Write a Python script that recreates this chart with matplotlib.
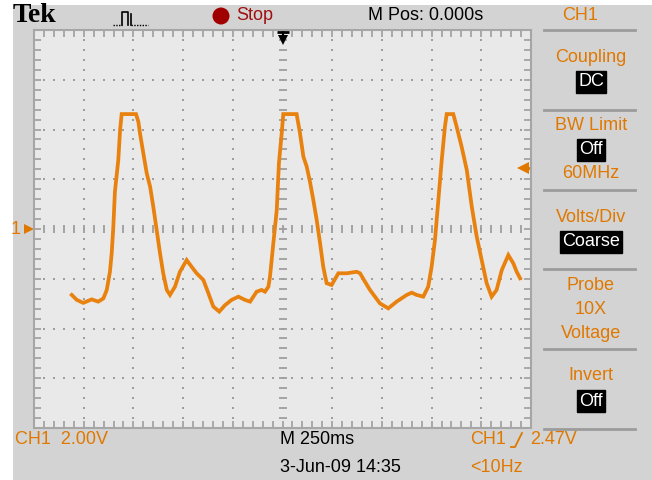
import matplotlib.pyplot as plt
from matplotlib.patches import Circle, Rectangle

########################  SCOPE SETTINGS AND TRACE  ###########################

volts_per_div = 2.00
ms_per_div = 250
trigger_level = 2.47

time_ms = [-1060, -1035, -1002, -960, -927, -901, -884, -868, -859, -851,
           -843, -826, -817, -809, -737, -725, -717, -700, -683, -666,
           -650, -633, -616, -600, -582, -566, -541, -516, -482, -457,
           -432, -398, -373, -348, -318, -289, -256, -222, -189, -163,
           -130, -105, -88, -71, -63, -46, -29, -18, -4, 4,
           71, 88, 105, 122, 138, 155, 172, 189, 205, 222,
           247, 281, 323, 373, 390, 415, 440, 465, 490, 532,
           574, 625, 650, 675, 708, 733, 750, 767, 784, 801,
           817, 826, 859, 876, 901, 927, 952, 977, 1002, 1027,
           1052, 1077, 1103, 1136, 1161, 1178, 1195]
volts = [-2.65, -2.85, -2.97, -2.83, -2.92, -2.79, -2.45, -1.72, -0.96, 0.09,
         1.50, 2.77, 3.98, 4.62, 4.62, 4.31, 3.85, 3.04, 2.24, 1.70,
         0.90, -0.04, -0.98, -1.78, -2.45, -2.65, -2.32, -1.72, -1.25, -1.52,
         -1.78, -2.05, -2.58, -3.12, -3.32, -3.06, -2.85, -2.72, -2.85, -2.92,
         -2.52, -2.45, -2.52, -2.32, -1.92, -0.57, 0.76, 2.64, 3.85, 4.62,
         4.62, 3.85, 2.91, 2.50, 1.90, 1.17, 0.36, -0.57, -1.52, -2.18,
         -2.25, -1.78, -1.78, -1.72, -1.78, -2.12, -2.45, -2.72, -2.99, -3.19,
         -2.92, -2.65, -2.56, -2.65, -2.72, -2.32, -1.52, -0.44, 1.17, 2.77,
         4.11, 4.62, 4.62, 4.11, 3.31, 2.37, 0.90, -0.31, -1.25, -2.18,
         -2.72, -2.45, -1.65, -1.05, -1.38, -1.72, -1.98]

# side menu: (text, boxed?)
menu_lines = [[('Coupling', False), ('DC', True)],
              [('BW Limit', False), ('Off', True), ('60MHz', False)],
              [('Volts/Div', False), ('Coarse', True)],
              [('Probe', False), ('10X', False), ('Voltage', False)],
              [('Invert', False), ('Off', True)]]

ORANGE = '#e07800'
TRACE = '#e8810d'
plt.rcParams['font.family'] = ['Liberation Sans', 'DejaVu Sans']
FS = 13

fig = plt.figure(figsize=(6.52, 4.8), dpi=100)
fig.patch.set_facecolor('white')

###########################  CHROME (PIXEL COORDS)  ###########################

ui = fig.add_axes([0, 0, 1, 1], zorder=0)
ui.set_xlim(0, 652)
ui.set_ylim(480, 0)
ui.axis('off')
ui.add_patch(Rectangle((13, 5), 640, 476, color='#d3d3d3', lw=0))

ui.text(13, 16, 'Tek', family='Liberation Serif', weight='bold', fontsize=20,
        va='center', ha='left', color='black')

# trigger type icon
ui.plot([113, 122], [25, 25], color='black', lw=1, ls=(0, (1, 1)))
ui.plot([122, 122, 128, 128], [25, 12, 12, 25], color='black', lw=1.2)
ui.plot([131, 131], [14, 25], color='black', lw=1.2)
ui.plot([131, 148], [25, 25], color='black', lw=1, ls=(0, (1, 1)))

ui.add_patch(Circle((221, 16), 8.5, color='#a00000', lw=0))
ui.text(236, 16, 'Stop', color='#a01010', fontsize=FS, va='center', ha='left')
ui.text(426, 16, 'M Pos: 0.000s', color='black', fontsize=FS, va='center', ha='center')
ui.text(580, 16, 'CH1', color=ORANGE, fontsize=FS, va='center', ha='center')

sep_y = [30, 110, 190, 269, 349, 429]
for y in sep_y:
    ui.plot([544, 635], [y, y], color='#9c9c9c', lw=2)

box = dict(facecolor='black', edgecolor='black', pad=1.5)
for top, lines in zip(sep_y, menu_lines):
    first = top + (16 if len(lines) == 3 else 27)
    for j, (txt, boxed) in enumerate(lines):
        ty = first + j * (24 if len(lines) == 3 else 25)
        if boxed:
            ui.text(591, ty, txt, color='white', fontsize=FS, ha='center',
                    va='center', bbox=box)
        else:
            ui.text(591, ty, txt, color=ORANGE, fontsize=FS, ha='center', va='center')

ui.text(15, 440, 'CH1  %.2fV' % volts_per_div, color=ORANGE, fontsize=FS, va='center')
ui.text(280, 440, 'M %dms' % ms_per_div, color='black', fontsize=FS, va='center')
ui.text(280, 467, '3-Jun-09 14:35', color='black', fontsize=FS, va='center')
ui.text(470, 440, 'CH1', color=ORANGE, fontsize=FS, va='center')
ui.plot([511, 515, 522], [447, 447, 433], color=ORANGE, lw=1.3)
ui.text(530, 440, '%.2fV' % trigger_level, color=ORANGE, fontsize=FS, va='center')
ui.text(470, 467, '<10Hz', color=ORANGE, fontsize=FS, va='center')

##############################  GRATICULE  ####################################

ax = fig.add_axes([34 / 652, 52 / 480, 497 / 652, 398 / 480], zorder=1)
half_x = 5 * ms_per_div
half_y = 4 * volts_per_div
ax.set_xlim(-half_x, half_x)
ax.set_ylim(-half_y, half_y)
ax.set_facecolor('#e9e9e9')
ax.set_xticks([])
ax.set_yticks([])
for s in ax.spines.values():
    s.set_color('#a6a6a6')
    s.set_linewidth(1.5)

grid_c = '#9e9e9e'
x_minor = [k * ms_per_div / 5 for k in range(-24, 25)]
y_minor = [k * volts_per_div / 5 for k in range(-19, 20)]
for d in range(-4, 5):
    if d == 0:
        continue
    ax.plot([d * ms_per_div] * len(y_minor), y_minor, ls='none', marker='s',
            ms=1.6, mew=0, color=grid_c)
for d in range(-3, 4):
    if d == 0:
        continue
    ax.plot(x_minor, [d * volts_per_div] * len(x_minor), ls='none', marker='s',
            ms=1.6, mew=0, color=grid_c)

# center cross and edge ticks
ax.plot(x_minor, [0] * len(x_minor), ls='none', marker='|', ms=6, mew=1.3, color=grid_c)
ax.plot([0] * len(y_minor), y_minor, ls='none', marker='_', ms=6, mew=1.3, color=grid_c)
for edge in (-half_y, half_y):
    ax.plot(x_minor, [edge] * len(x_minor), ls='none', marker='|', ms=10, mew=1.2, color=grid_c)
for edge in (-half_x, half_x):
    ax.plot([edge] * len(y_minor), y_minor, ls='none', marker='_', ms=10, mew=1.2, color=grid_c)

ax.plot(time_ms, volts, color=TRACE, lw=2.7, solid_joinstyle='miter')

# markers: trigger position, trigger level, ground
ax.plot([0, 0], [7.93, 7.65], color='black', lw=1.6)
ax.plot([0], [7.93], marker='_', ms=8, mew=2, color='black')
ax.plot([0], [7.6], marker='v', ms=7, mew=0, color='black')
ax.plot([1212], [trigger_level], marker='<', ms=8, mew=0, color=ORANGE)
ax.plot([1212, 1250], [trigger_level, trigger_level], color=ORANGE, lw=2)
ax.plot([-1275], [0], marker='>', ms=7, mew=0, color=ORANGE, clip_on=False)
ax.text(-1340, 0, '1', color=ORANGE, fontsize=FS, va='center', ha='center')

fig.savefig('out.png', dpi=100)
